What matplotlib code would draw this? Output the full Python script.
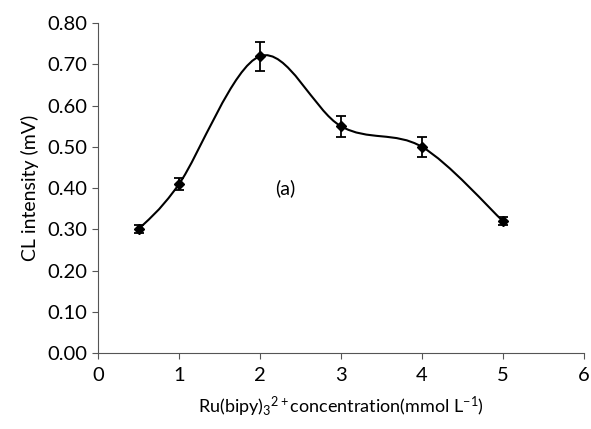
import matplotlib
matplotlib.use('Agg')
import matplotlib.pyplot as plt
from matplotlib.path import Path
from matplotlib.patches import PathPatch

conc = [0.5, 1, 2, 3, 4, 5]
intensity = [0.30, 0.41, 0.72, 0.55, 0.50, 0.32]
err = [0.010, 0.015, 0.035, 0.025, 0.025, 0.010]

plt.rcParams['font.family'] = ['Lato', 'DejaVu Sans']
plt.rcParams['mathtext.fontset'] = 'custom'
plt.rcParams['mathtext.rm'] = 'Lato'
plt.rcParams['mathtext.it'] = 'Lato'

fig = plt.figure(figsize=(5.91, 4.29), dpi=100)
ax = fig.add_axes([0.166, 0.177, 0.822, 0.769])

# smooth line like a spreadsheet "smoothed line" (bezier through the points)
n = len(conc)
verts = [(conc[0], intensity[0])]
codes = [Path.MOVETO]
for i in range(n - 1):
    p0 = (conc[max(i - 1, 0)], intensity[max(i - 1, 0)])
    p1 = (conc[i], intensity[i])
    p2 = (conc[i + 1], intensity[i + 1])
    p3 = (conc[min(i + 2, n - 1)], intensity[min(i + 2, n - 1)])
    c1 = (p1[0] + (p2[0] - p0[0]) / 6, p1[1] + (p2[1] - p0[1]) / 6)
    c2 = (p2[0] - (p3[0] - p1[0]) / 6, p2[1] - (p3[1] - p1[1]) / 6)
    verts += [c1, c2, p2]
    codes += [Path.CURVE4] * 3
ax.add_patch(PathPatch(Path(verts, codes), facecolor='none', edgecolor='black', lw=1.5))

ax.errorbar(conc, intensity, yerr=err, fmt='D', color='black', ms=5,
            capsize=3.5, elinewidth=1.3, capthick=1.3)

ax.text(2.31, 0.40, '(a)', fontsize=14, ha='center', va='center')

ax.set_xlim(0, 6)
ax.set_ylim(0, 0.8)
ax.set_xticks(range(0, 7))
ax.set_yticks([i / 10 for i in range(9)])
ax.set_yticklabels(['%.2f' % (i / 10) for i in range(9)])
ax.spines['top'].set_visible(False)
ax.spines['right'].set_visible(False)
for s in ['left', 'bottom']:
    ax.spines[s].set_color('#555555')
ax.tick_params(direction='out', length=4, color='#555555', labelsize=14.5)
ax.tick_params(axis='x', pad=6)

ax.set_ylabel('CL intensity (mV)', fontsize=14, labelpad=6)
ax.set_xlabel(r'Ru(bipy)$_3$$^{2+}$concentration(mmol L$^{-1}$)', fontsize=13, labelpad=8)

fig.savefig('out.png', dpi=100)
